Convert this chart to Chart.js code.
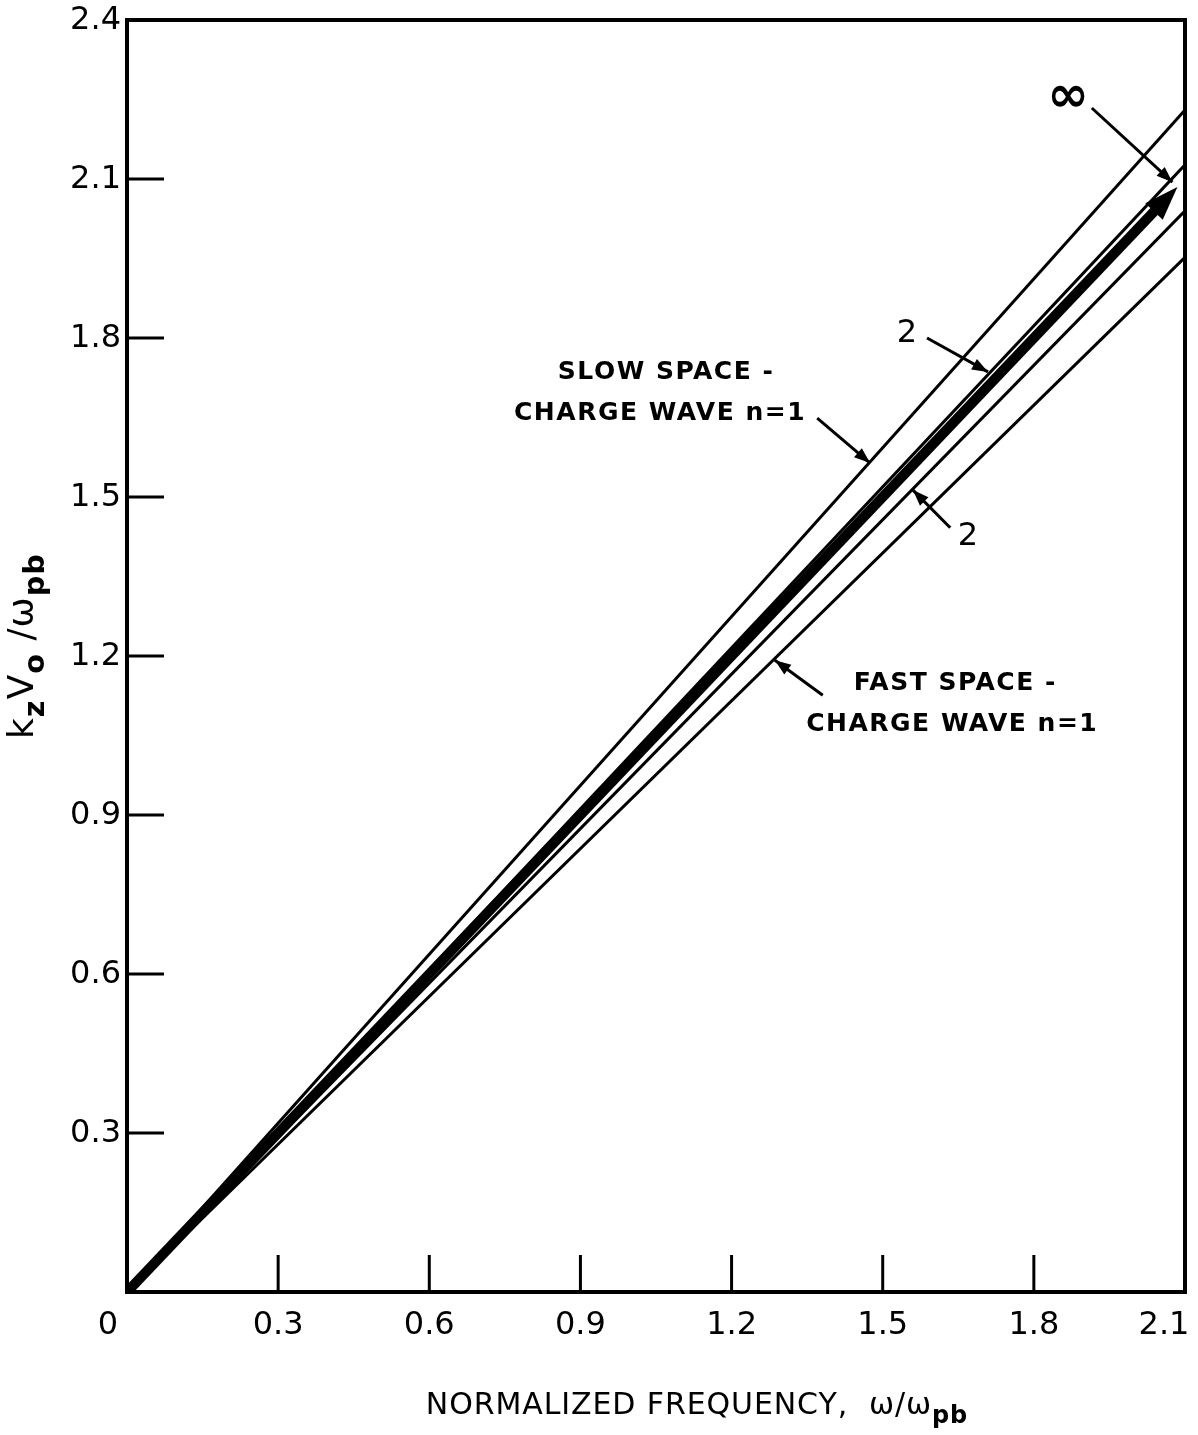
<!DOCTYPE html>
<html>
<head>
<meta charset="utf-8">
<script src="https://cdn.jsdelivr.net/npm/chart.js@4.4.0/dist/chart.umd.min.js"></script>
<style>
body { margin: 0; background: #fff; }
#wrap { width: 1198px; height: 1435px; }
</style>
</head>
<body>
<div id="wrap"><canvas id="myChart" width="1198" height="1435"></canvas></div>
<script>
// line end points (omega/omega_pb -> kz v0/omega_pb), all start at the origin
const freqEnds = [0, 2.1];
const slowN1 = [0, 2.23];
const slowN2 = [0, 2.127];
const fastN2 = [0, 2.04];
const fastN1 = [0, 1.952];
const infFreq = [0, 2.04];
const infK = [0, 2.04];
const infTip = [2.085, 2.085];

const xTicks = [0.3, 0.6, 0.9, 1.2, 1.5, 1.8];
const xTickLabels = [[0, '0'], [0.3, '0.3'], [0.6, '0.6'], [0.9, '0.9'], [1.2, '1.2'], [1.5, '1.5'], [1.8, '1.8'], [2.1, '2.1']];
const yTicks = [0.3, 0.6, 0.9, 1.2, 1.5, 1.8, 2.1];
const yTickLabels = ['0.3', '0.6', '0.9', '1.2', '1.5', '1.8', '2.1', '2.4'];
const yTickValues = [0.3, 0.6, 0.9, 1.2, 1.5, 1.8, 2.1, 2.4];

// callouts, in data units
const callouts = [
    { from: [1.915, 2.234], to: [2.075, 2.094] },
    { from: [1.588, 1.800], to: [1.709, 1.736] },
    { from: [1.370, 1.649], to: [1.475, 1.564] },
    { from: [1.634, 1.442], to: [1.560, 1.513] },
    { from: [1.381, 1.126], to: [1.286, 1.192] }
];
const notes = [
    { text: '\u221E', at: [1.868, 2.252], size: 50, bold: true, sp: 0 },
    { text: '2', at: [1.548, 1.809], size: 32, sp: 0 },
    { text: '2', at: [1.669, 1.425], size: 32, sp: 0 },
    { text: 'SLOW SPACE -', at: [1.070, 1.734], size: 25, bold: true, sp: 1.5 },
    { text: 'CHARGE WAVE n=1', at: [1.058, 1.657], size: 25, bold: true, sp: 1.5 },
    { text: 'FAST SPACE -', at: [1.644, 1.149], size: 25, bold: true, sp: 1.5 },
    { text: 'CHARGE WAVE n=1', at: [1.638, 1.070], size: 25, bold: true, sp: 1.5 }
];

function pts(xs, ys) {
    return xs.map((x, i) => ({ x: x, y: ys[i] }));
}

function arrowHead(ctx, x1, y1, x2, y2, len, half) {
    const a = Math.atan2(y2 - y1, x2 - x1);
    ctx.beginPath();
    ctx.moveTo(x2, y2);
    ctx.lineTo(x2 - len * Math.cos(a) + half * Math.sin(a), y2 - len * Math.sin(a) - half * Math.cos(a));
    ctx.lineTo(x2 - len * Math.cos(a) - half * Math.sin(a), y2 - len * Math.sin(a) + half * Math.cos(a));
    ctx.closePath();
    ctx.fill();
}

function setFont(ctx, size, bold) {
    ctx.font = (bold ? 'bold ' : '') + size + 'px "DejaVu Sans"';
}

// centred text made of parts, some of them subscripts
function drawRich(ctx, parts, x, y, size, spacing, bold) {
    ctx.letterSpacing = spacing + 'px';
    ctx.textAlign = 'left';
    let w = 0;
    parts.forEach(p => {
        setFont(ctx, p.sub ? size * 0.8 : size, bold || p.bold);
        w += ctx.measureText(p.t).width;
    });
    let cx = x - w / 2;
    parts.forEach(p => {
        setFont(ctx, p.sub ? size * 0.8 : size, bold || p.bold);
        ctx.fillText(p.t, cx, p.sub ? y + size * 0.35 : y);
        cx += ctx.measureText(p.t).width;
    });
    ctx.letterSpacing = '0px';
}

const decor = {
    id: 'decor',
    afterDatasetsDraw(chart) {
        const ctx = chart.ctx;
        const xs = chart.scales.x, ys = chart.scales.y;
        // arrow head on the thick line
        ctx.save();
        ctx.fillStyle = '#000';
        arrowHead(ctx, xs.getPixelForValue(infFreq[0]), ys.getPixelForValue(infK[0]),
            xs.getPixelForValue(infTip[0]), ys.getPixelForValue(infTip[1]), 34, 12);
        ctx.restore();
    },
    afterDraw(chart) {
        const ctx = chart.ctx;
        const a = chart.chartArea;
        const xs = chart.scales.x, ys = chart.scales.y;
        ctx.save();
        ctx.strokeStyle = '#000';
        ctx.fillStyle = '#000';
        // frame
        ctx.lineWidth = 4;
        ctx.strokeRect(a.left, a.top, a.right - a.left, a.bottom - a.top);
        // inward ticks
        ctx.lineWidth = 3;
        xTicks.forEach(v => {
            const px = xs.getPixelForValue(v);
            ctx.beginPath();
            ctx.moveTo(px, a.bottom);
            ctx.lineTo(px, a.bottom - 37);
            ctx.stroke();
        });
        yTicks.forEach(v => {
            const py = ys.getPixelForValue(v);
            ctx.beginPath();
            ctx.moveTo(a.left, py);
            ctx.lineTo(a.left + 37, py);
            ctx.stroke();
        });
        // tick labels
        ctx.font = '32px "DejaVu Sans"';
        ctx.textBaseline = 'middle';
        ctx.textAlign = 'right';
        yTickLabels.forEach((t, i) => {
            ctx.fillText(t, a.left - 6, ys.getPixelForValue(yTickValues[i]) + 1);
        });
        ctx.textAlign = 'center';
        xTickLabels.forEach(([v, t]) => {
            let px = xs.getPixelForValue(v);
            if (v === 0) px -= 19;
            if (v === 2.1) px -= 21;
            ctx.fillText(t, px, a.bottom + 34);
        });
        // leaders
        ctx.lineWidth = 3;
        callouts.forEach(c => {
            const x1 = xs.getPixelForValue(c.from[0]), y1 = ys.getPixelForValue(c.from[1]);
            const x2 = xs.getPixelForValue(c.to[0]), y2 = ys.getPixelForValue(c.to[1]);
            ctx.beginPath();
            ctx.moveTo(x1, y1);
            ctx.lineTo(x2, y2);
            ctx.stroke();
            arrowHead(ctx, x1, y1, x2, y2, 16, 6);
        });
        // notes
        ctx.textBaseline = 'middle';
        notes.forEach(n => {
            drawRich(ctx, [{ t: n.text }], xs.getPixelForValue(n.at[0]), ys.getPixelForValue(n.at[1]), n.size, n.sp, n.bold);
        });
        // axis titles
        drawRich(ctx, [{ t: 'NORMALIZED FREQUENCY,  \u03C9/\u03C9' }, { t: 'pb', sub: true, bold: true }],
            697, a.bottom + 114, 30, 0.9);
        ctx.translate(30, 646);
        ctx.rotate(-Math.PI / 2);
        drawRich(ctx, [{ t: 'k' }, { t: 'z', sub: true, bold: true }, { t: 'V' }, { t: 'o', sub: true, bold: true }, { t: ' /\u03C9' }, { t: 'pb', sub: true, bold: true }],
            0, -6, 36, 1);
        ctx.restore();
    }
};

const thin = { borderColor: '#000', borderWidth: 3, pointRadius: 0, showLine: true, fill: false };

const config = {
    type: 'scatter',
    data: {
        datasets: [
            Object.assign({ label: 'Slow n=1', data: pts(freqEnds, slowN1) }, thin),
            Object.assign({ label: 'Slow n=2', data: pts(freqEnds, slowN2) }, thin),
            Object.assign({ label: 'Fast n=2', data: pts(freqEnds, fastN2) }, thin),
            Object.assign({ label: 'Fast n=1', data: pts(freqEnds, fastN1) }, thin),
            Object.assign({}, thin, { label: 'n = infinity', data: pts(infFreq, infK), borderWidth: 10 })
        ]
    },
    options: {
        responsive: false,
        animation: false,
        devicePixelRatio: 1,
        layout: { padding: { left: 127, right: 13, top: 20, bottom: 143 } },
        scales: {
            x: { type: 'linear', min: 0, max: 2.1, display: false },
            y: { type: 'linear', min: 0, max: 2.4, display: false }
        },
        plugins: { legend: { display: false }, tooltip: { enabled: false } }
    },
    plugins: [decor]
};

const myChart = new Chart(document.getElementById('myChart'), config);
</script>
</body>
</html>
